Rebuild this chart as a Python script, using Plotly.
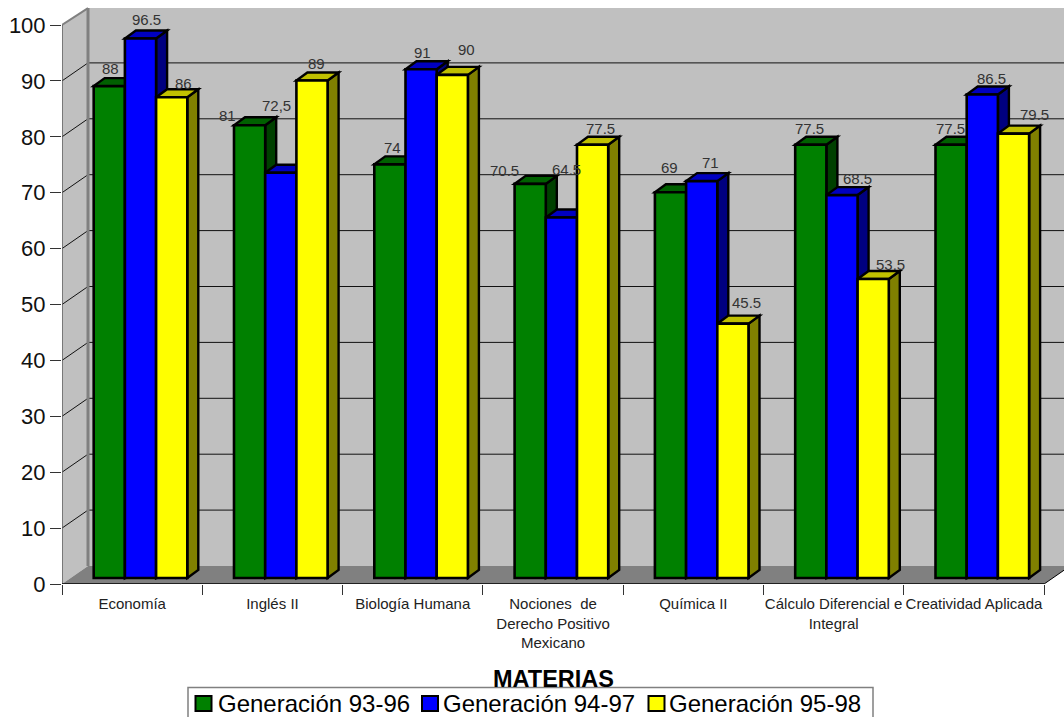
import plotly.graph_objects as go

categories = ["Economía", "Inglés II", "Biología Humana", "Nociones  de<br>Derecho Positivo<br>Mexicano",
              "Química II", "Cálculo Diferencial e<br>Integral", "Creatividad Aplicada"]
series_names = ["Generación 93-96", "Generación 94-97", "Generación 95-98"]
gen_93_96 = [88, 81, 74, 70.5, 69, 77.5, 77.5]
gen_94_97 = [96.5, 72.5, 91, 64.5, 71, 68.5, 86.5]
gen_95_98 = [86, 89, 90, 77.5, 45.5, 53.5, 79.5]
labels_93_96 = ["88", "81", "74", "70.5", "69", "77.5", "77.5"]
labels_94_97 = ["96.5", "72,5", "91", "64.5", "71", "68.5", "86.5"]
labels_95_98 = ["86", "89", "90", "77.5", "45.5", "53.5", "79.5"]
y_ticks = [0, 10, 20, 30, 40, 50, 60, 70, 80, 90, 100]

# styles
front = ["#008000", "#0000FF", "#FFFF00"]
top_c = ["#006000", "#0000C0", "#C0C000"]
side_c = ["#004000", "#000080", "#808000"]
label_dx = [[1.5, -22, 3, -26, -1, -1, -1], [5.5, -4, 1, 4.6, 9, 15, 9.5], [11.5, 4, 14, 7.6, 14, 17, 20.7]]
label_up = [[18, 10, 17, 13, 25, 16, 16], [18.6, 67, 17, 48, 19, 17, 15.5], [14, 16.5, 25, 16, 21, 14, 19.6]]
legend_swatch_px = [195.5, 422, 648.5]
legend_text_px = [218, 443, 669]

W, H = 1064, 717
X0, Y0 = 62, 584
PX_CAT = 140.3
PX_VAL = 5.59
to_x = lambda px: px / PX_CAT
to_y = lambda px: px / PX_VAL
x_range = [0, (W - X0) / PX_CAT]
y_range = [0, Y0 / PX_VAL]
n = len(categories)
paper_x = lambda px: (px - X0) / (W - X0)
paper_y = lambda py: (Y0 - py) / Y0

wall_dx, wall_dy = to_x(26), to_y(18)
bar_dx, bar_dy = to_x(11), to_y(8)
bar_w = to_x(31.2)
shift = to_x(8.35)
base = to_y(6)
all_values = [gen_93_96, gen_94_97, gen_95_98]
all_labels = [labels_93_96, labels_94_97, labels_95_98]


def poly(points, fill, line="#000000", width=0, layer="below"):
    path = "M" + " L".join(f"{a:.4f},{b:.4f}" for a, b in points) + " Z"
    return dict(type="path", path=path, xref="x", yref="y", fillcolor=fill, layer=layer,
                line=dict(color=line, width=width))


def seg(a, b, color, width):
    return dict(type="line", xref="x", yref="y", x0=a[0], y0=a[1], x1=b[0], y1=b[1], layer="below",
                line=dict(color=color, width=width))


wall_top = 100 + wall_dy - 0.2
shapes = [
    poly([(wall_dx, wall_dy), (x_range[1] + 1, wall_dy), (x_range[1] + 1, wall_top), (wall_dx, wall_top)], "#C0C0C0"),
    poly([(0, 0), (wall_dx, wall_dy), (wall_dx, wall_top), (0, 100)], "#C0C0C0"),
    poly([(0, 0), (n, 0), (n + wall_dx, wall_dy), (wall_dx, wall_dy)], "#808080"),
]
for t in y_ticks[1:-1]:
    shapes.append(seg((0, t), (wall_dx, t + wall_dy), "#111111", 1))
    shapes.append(seg((wall_dx, t + wall_dy), (x_range[1] + 1, t + wall_dy), "#111111", 1))
shapes += [
    seg((wall_dx, wall_dy), (wall_dx, wall_top), "#808080", 3),
    seg((0, 100), (wall_dx, wall_top), "#808080", 2),
    seg((0, 0), (0, 100), "#606060", 1.5),
    seg((0, 0), (n, 0), "#000000", 1.5),
    seg((n, 0), (n + wall_dx, wall_dy), "#000000", 1),
]

fig = go.Figure()
annotations = []
for s, (vals, labs) in enumerate(zip(all_values, all_labels)):
    xs = [i + 0.5 + shift + (s - 1) * bar_w for i in range(n)]
    for i, (xc, v) in enumerate(zip(xs, vals)):
        xl, xr = xc - bar_w / 2, xc + bar_w / 2
        top = v + base
        shapes.append(poly([(xr, base), (xr + bar_dx, base + bar_dy), (xr + bar_dx, top + bar_dy), (xr, top)],
                           side_c[s], width=2.4))
        shapes.append(poly([(xl, top), (xr, top), (xr + bar_dx, top + bar_dy), (xl + bar_dx, top + bar_dy)],
                           top_c[s], width=2.4))
        annotations.append(dict(x=xc, y=top, xref="x", yref="y", text=labs[i], showarrow=False,
                                xshift=label_dx[s][i], yshift=label_up[s][i], yanchor="middle",
                                font=dict(family="Liberation Sans", size=15, color="#333333")))
    fig.add_trace(go.Bar(x=xs, y=vals, base=base, width=bar_w, name=series_names[s], showlegend=False,
                         marker=dict(color=front[s], line=dict(color="#000000", width=2.6))))

annotations.append(dict(x=paper_x(553), y=paper_y(679), xref="paper", yref="paper", text="<b>MATERIAS</b>",
                        showarrow=False, yanchor="middle",
                        font=dict(family="Liberation Sans", size=23.5, color="#000000")))

# legend box, swatches and entries
shapes.append(dict(type="rect", xref="paper", yref="paper", x0=paper_x(188), x1=paper_x(873),
                   y0=paper_y(720), y1=paper_y(687.5), fillcolor="white", line=dict(color="#808080", width=1.5), layer="above"))
for s in range(3):
    shapes.append(dict(type="rect", xref="paper", yref="paper", x0=paper_x(legend_swatch_px[s]),
                       x1=paper_x(legend_swatch_px[s] + 16), y0=paper_y(711), y1=paper_y(696),
                       fillcolor=front[s], line=dict(color="#000000", width=2), layer="above"))
    annotations.append(dict(x=paper_x(legend_text_px[s]), y=paper_y(703.5), xref="paper", yref="paper",
                            text=series_names[s], showarrow=False, xanchor="left", yanchor="middle", xshift=-2,
                            font=dict(family="Liberation Sans", size=24, color="#000000")))

fig.update_layout(
    width=W, height=H, autosize=False,
    margin=dict(l=X0, r=0, t=0, b=H - Y0, pad=0, autoexpand=False),
    paper_bgcolor="white", plot_bgcolor="white",
    font=dict(family="Liberation Sans"),
    showlegend=False,
    xaxis=dict(range=x_range, tickmode="array", tickvals=[i + 0.5 for i in range(n)], ticktext=categories,
               ticks="outside", ticklen=6, tickcolor="rgba(0,0,0,0)", tickangle=0, showgrid=False, zeroline=False,
               showline=False, tickfont=dict(family="Liberation Sans", size=15, color="#222222"),
               minor=dict(tickmode="linear", tick0=0, dtick=1, ticks="outside", ticklen=10, tickcolor="#333333",
                          tickwidth=1, showgrid=False)),
    yaxis=dict(range=y_range, tickmode="array", tickvals=y_ticks, ticks="outside", ticklen=11, tickcolor="#333333",
               showgrid=False, zeroline=False, showline=False,
               tickfont=dict(family="Liberation Sans", size=22, color="#111111")),
    shapes=shapes, annotations=annotations,
)
fig.write_html("out.html", config={"displayModeBar": False},
               post_script="document.body.style.margin='0';document.body.style.overflow='hidden';")
